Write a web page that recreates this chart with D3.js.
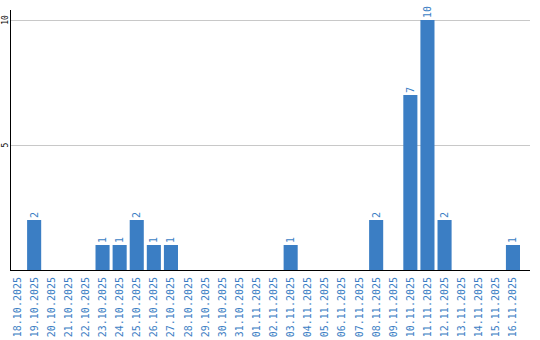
<!DOCTYPE html>
<html>
<head>
<meta charset="utf-8">
<script src="https://cdn.jsdelivr.net/npm/d3@7"></script>
<style>
  body { margin: 0; background: #fff; }
</style>
</head>
<body>
<div id="chart"></div>
<script>
// Data
const days = [
  "18.10.2025", "19.10.2025", "20.10.2025", "21.10.2025", "22.10.2025",
  "23.10.2025", "24.10.2025", "25.10.2025", "26.10.2025", "27.10.2025",
  "28.10.2025", "29.10.2025", "30.10.2025", "31.10.2025", "01.11.2025",
  "02.11.2025", "03.11.2025", "04.11.2025", "05.11.2025", "06.11.2025",
  "07.11.2025", "08.11.2025", "09.11.2025", "10.11.2025", "11.11.2025",
  "12.11.2025", "13.11.2025", "14.11.2025", "15.11.2025", "16.11.2025"
];
const counts = [0, 2, 0, 0, 0, 1, 1, 2, 1, 1, 0, 0, 0, 0, 0, 0, 1, 0, 0, 0, 0, 2, 0, 7, 10, 2, 0, 0, 0, 1];
const yTicks = [5, 10];

const width = 540;
const height = 340;
const margin = { top: 10, right: 10, bottom: 70, left: 10 };
const blue = "#3b7ec4";

const svg = d3.select("#chart")
  .append("svg")
  .attr("width", width)
  .attr("height", height)
  .style("font-family", "'DejaVu Sans Mono', monospace");

const x = d3.scaleBand()
  .domain(days)
  .range([margin.left, margin.left + 17 * days.length])
  .paddingInner(3 / 17)
  .paddingOuter(0)
  .align(0);

const y = d3.scaleLinear()
  .domain([0, 10])
  .range([height - margin.bottom, 20]);

const data = days.map((d, i) => ({ day: d, v: counts[i] })).filter(d => d.v > 0);

// gridlines
svg.append("g")
  .selectAll("line")
  .data(yTicks)
  .join("line")
  .attr("x1", margin.left)
  .attr("x2", width - margin.right)
  .attr("y1", d => y(d) + 0.5)
  .attr("y2", d => y(d) + 0.5)
  .attr("stroke", "#c8c8c8");

// y tick labels
svg.append("g")
  .selectAll("text")
  .data(yTicks)
  .join("text")
  .attr("transform", d => `translate(5,${y(d)}) rotate(-90)`)
  .attr("text-anchor", "middle")
  .attr("dy", "0.35em")
  .attr("font-size", "8px")
  .attr("fill", "#000")
  .text(d => d);

// bars
svg.append("g")
  .selectAll("rect")
  .data(data)
  .join("rect")
  .attr("x", d => x(d.day))
  .attr("y", d => y(d.v))
  .attr("width", x.bandwidth())
  .attr("height", d => y(0) - y(d.v))
  .attr("fill", blue);

// value labels
svg.append("g")
  .selectAll("text")
  .data(data)
  .join("text")
  .attr("transform", d => `translate(${x(d.day) + x.bandwidth() / 2},${y(d.v) - 2}) rotate(-90)`)
  .attr("text-anchor", "start")
  .attr("dy", "0.35em")
  .attr("font-size", "10px")
  .attr("fill", blue)
  .text(d => d.v);

// axes lines
svg.append("line")
  .attr("x1", margin.left + 0.5).attr("x2", margin.left + 0.5)
  .attr("y1", margin.top).attr("y2", y(0) + 1)
  .attr("stroke", "#000");
svg.append("line")
  .attr("x1", margin.left).attr("x2", width - margin.right)
  .attr("y1", y(0) + 0.5).attr("y2", y(0) + 0.5)
  .attr("stroke", "#000");

// x labels
svg.append("g")
  .selectAll("text")
  .data(days)
  .join("text")
  .attr("transform", d => `translate(${x(d) + x.bandwidth() / 2},${y(0) + 7}) rotate(-90)`)
  .attr("text-anchor", "end")
  .attr("dy", "0.35em")
  .attr("font-size", "10px")
  .attr("fill", blue)
  .text(d => d);
</script>
</body>
</html>
